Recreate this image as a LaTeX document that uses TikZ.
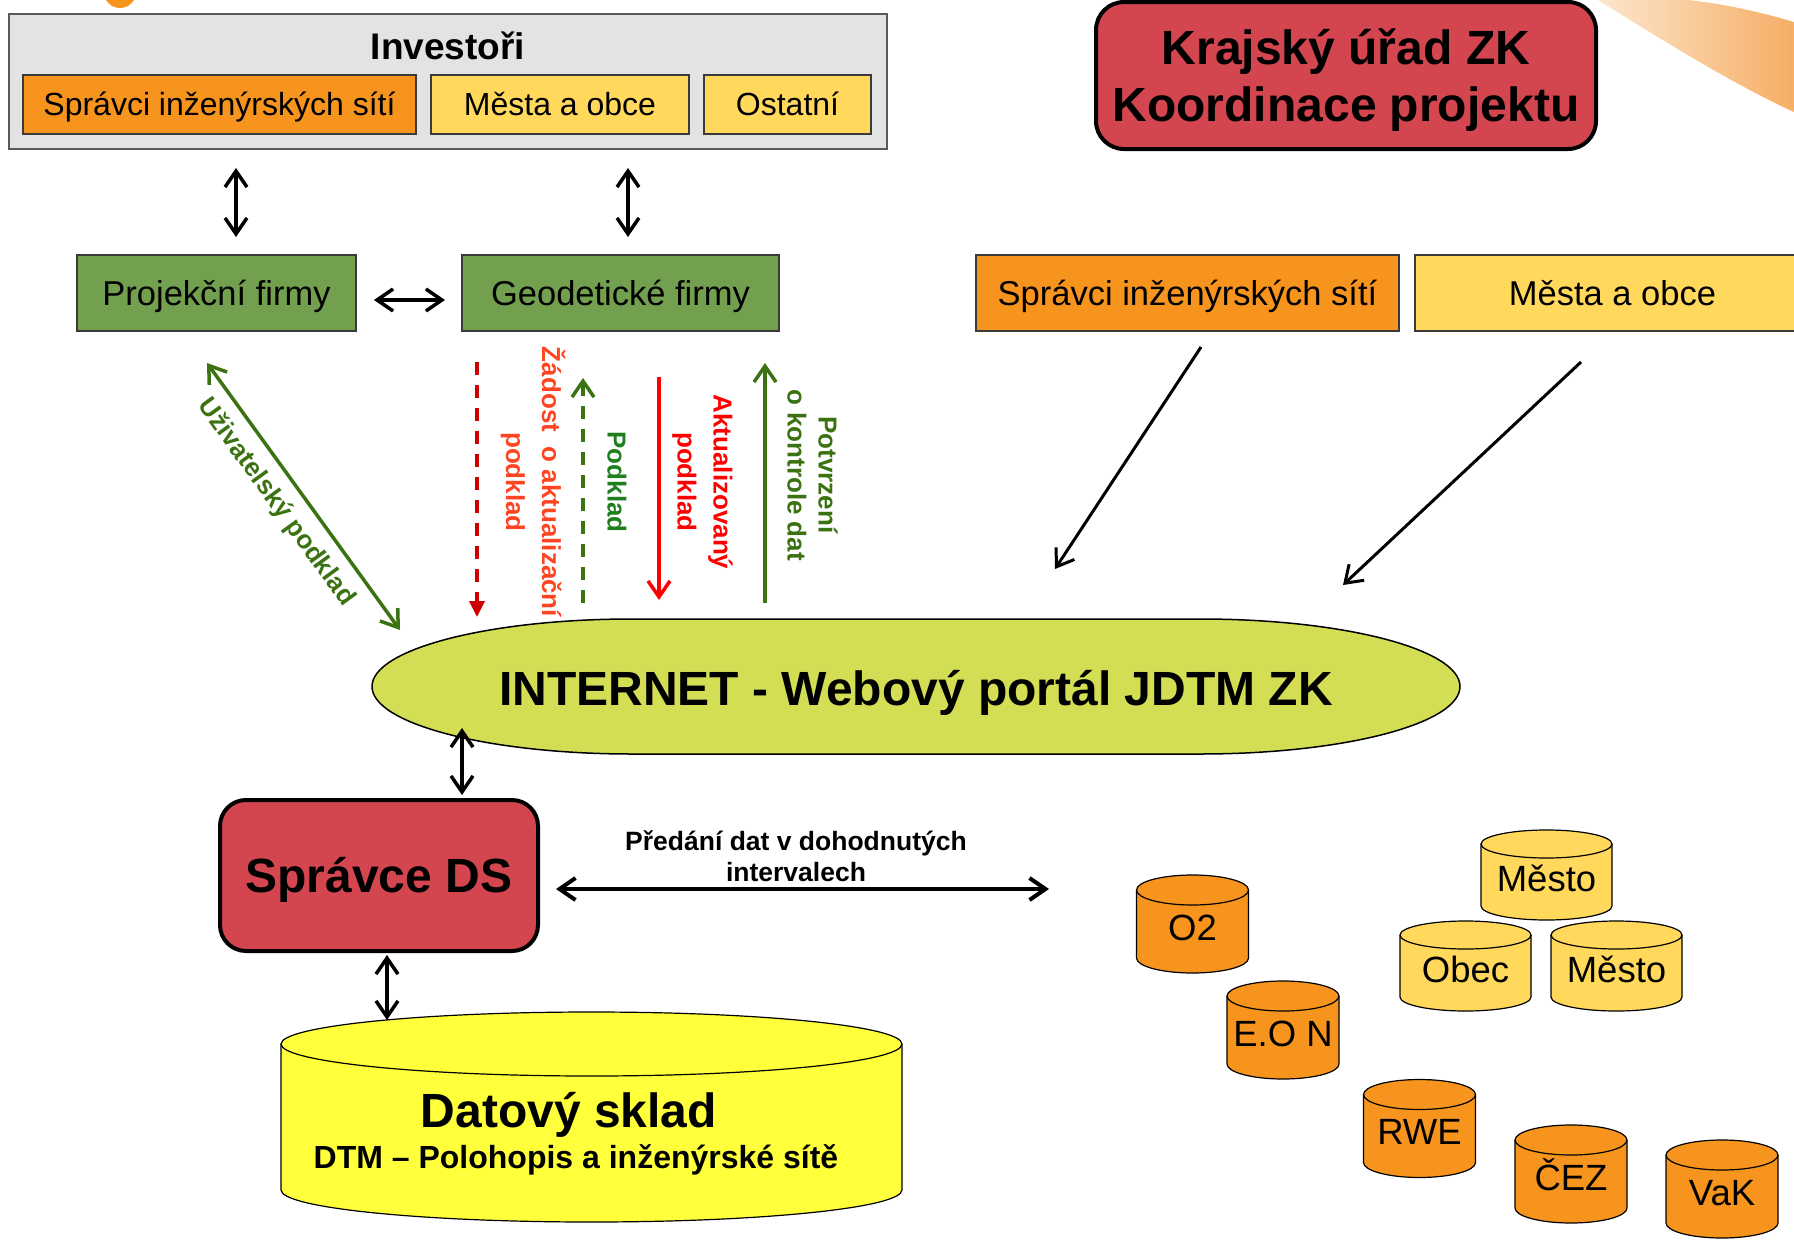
\documentclass[tikz,border=0pt]{standalone}
\usepackage{fontspec}
\setmainfont{Liberation Sans}
\usetikzlibrary{arrows.meta}
\definecolor{cOrange}{HTML}{F7941E}
\definecolor{cYellow}{HTML}{FFD85C}
\definecolor{cGray}{HTML}{E3E3E3}
\definecolor{cGrayBorder}{HTML}{5A5A5A}
\definecolor{cGreenBox}{HTML}{72A04F}
\definecolor{cRedBox}{HTML}{D4464F}
\definecolor{cLime}{HTML}{D3DE55}
\definecolor{cBigYellow}{HTML}{FFFF3C}
\definecolor{cOlive}{HTML}{3B7212}
\definecolor{cPodklad}{HTML}{1F7F1F}
\definecolor{cDarkRed}{HTML}{CC0000}
\definecolor{cOrangeRed}{HTML}{FF4422}
\definecolor{cRed}{HTML}{FF0000}
\definecolor{cBorder}{HTML}{3A3A3A}
\definecolor{cSwooshA}{HTML}{FCE6CC}
\definecolor{cSwooshB}{HTML}{F6AE66}
\newcommand{\myfs}[2]{\fontsize{#1}{#2}\selectfont}
\tikzset{
  box/.style={draw=cBorder, line width=1.5pt, inner sep=0pt, align=center, text depth=0pt},
  toptxt/.style={font=\myfs{32}{38}, text height=22.9pt},
  midtxt/.style={font=\myfs{34.5}{40}, text height=24.7pt},
  orbox/.style={box, fill=cOrange},
  yebox/.style={box, fill=cYellow},
  grbox/.style={box, fill=cGreenBox, midtxt, minimum height=76pt},
  redbox/.style={draw=black, line width=4pt, fill=cRedBox, rounded corners=28pt, inner sep=0pt, align=center, font=\bfseries\myfs{48}{57}, text depth=0pt},
  blkarrow/.style={line width=3.5pt, <->},
  colarrow/.style={line width=3.5pt},
  vlabel/.style={rotate=-90, align=center, font=\bfseries\myfs{26}{36}, text height=54.6pt, text depth=0pt},
  vlabelone/.style={rotate=-90, font=\bfseries\myfs{26}{36}, text height=18.6pt, text depth=0pt},
  cyltext/.style={inner sep=0pt, font=\myfs{36.5}{40}, text height=26.1pt, text depth=0pt}
}
% cylinder: #1 name, #2 cx, #3 cy, #4 width, #5 height, #6 end y-radius, #7 fill, #8 text
\newcommand{\drawcyl}[8]{%
  \pgfmathsetmacro\cylL{#2-#4/2}\pgfmathsetmacro\cylR{#2+#4/2}%
  \pgfmathsetmacro\cylT{#3-#5/2}\pgfmathsetmacro\cylB{#3+#5/2}%
  \pgfmathsetmacro\cylTa{\cylT+#6}\pgfmathsetmacro\cylBa{\cylB-#6}%
  \pgfmathsetmacro\cylTb{\cylT+2*#6}%
  \pgfmathsetmacro\cylKx{0.5523*#4/2}\pgfmathsetmacro\cylKy{0.5523*#6}%
  \pgfmathsetmacro\cylXa{#2-\cylKx}\pgfmathsetmacro\cylXb{#2+\cylKx}%
  \pgfmathsetmacro\cylYa{\cylBa+\cylKy}\pgfmathsetmacro\cylYb{\cylTa-\cylKy}\pgfmathsetmacro\cylYc{\cylTa+\cylKy}%
  \draw[fill=#7, line width=1.2pt] (\cylL,\cylTa) -- (\cylL,\cylBa)
    .. controls (\cylL,\cylYa) and (\cylXa,\cylB) .. (#2,\cylB)
    .. controls (\cylXb,\cylB) and (\cylR,\cylYa) .. (\cylR,\cylBa)
    -- (\cylR,\cylTa)
    .. controls (\cylR,\cylYb) and (\cylXb,\cylT) .. (#2,\cylT)
    .. controls (\cylXa,\cylT) and (\cylL,\cylYb) .. (\cylL,\cylTa) -- cycle;
  \draw[line width=1.2pt] (\cylL,\cylTa)
    .. controls (\cylL,\cylYc) and (\cylXa,\cylTb) .. (#2,\cylTb)
    .. controls (\cylXb,\cylTb) and (\cylR,\cylYc) .. (\cylR,\cylTa);
  \node[cyltext] (#1) at (#2,#3+3) {#8};%
}
\begin{document}
\begin{tikzpicture}[x=1pt, y=-1pt, >={Straight Barb[length=16pt,width=22pt]}]
\useasboundingbox (0,0) rectangle (1794,1253);
\clip (0,0) rectangle (1794,1253);
\fill[white] (0,0) rectangle (1794,1253);

% background decorations
\shade[left color=cSwooshA, right color=cSwooshB] (1598,0) .. controls (1670,45) and (1735,85) .. (1794,112) -- (1794,22) .. controls (1760,12) and (1725,4) .. (1688,0) -- cycle;
\fill[cOrange] (120,-8) circle[radius=16];

% Investori
\node[box, draw=cGrayBorder, fill=cGray, minimum width=878pt, minimum height=135pt] (inv) at (448,81.5) {};
\node[font=\bfseries\myfs{37}{44}, text height=26.5pt, text depth=0pt] (invt) at (448,46) {Investoři};
\node[orbox, toptxt, minimum width=393pt, minimum height=59pt] (spr1) at (219.5,104.5) {Správci inženýrských sítí};
\node[yebox, toptxt, minimum width=258pt, minimum height=59pt] (mes1) at (560,104.5) {Města a obce};
\node[yebox, toptxt, minimum width=167pt, minimum height=59pt] (ost) at (787.5,104.5) {Ostatní};

% Krajsky urad
\node[redbox, text height=91.4pt, minimum width=500pt, minimum height=147pt] (kraj) at (1346,75.5) {Krajský úřad ZK\\Koordinace projektu};

% firms
\node[grbox, minimum width=279pt] (proj) at (216.5,293) {Projekční firmy};
\node[grbox, minimum width=317pt] (geo) at (620.5,293) {Geodetické firmy};
\node[orbox, midtxt, minimum width=423pt, minimum height=76pt] (spr2) at (1187.5,293) {Správci inženýrských sítí};
\node[yebox, midtxt, minimum width=395pt, minimum height=76pt] (mes2) at (1612.5,293) {Města a obce};

% arrows between upper boxes
\coordinate (a1s) at (236,168); \coordinate (a1e) at (236,237);
\coordinate (a2s) at (628,168); \coordinate (a2e) at (628,237);
\coordinate (a3s) at (374,300); \coordinate (a3e) at (445,300);
\draw[blkarrow] (a1s) -- (a1e);
\draw[blkarrow] (a2s) -- (a2e);
\draw[blkarrow] (a3s) -- (a3e);

% vertical labels
\node[vlabel, text=cOrangeRed] (lzad) at (533.5,482) {Žádost\ \ o aktualizační\\podklad};
\node[vlabelone, text=cPodklad] (lpod) at (617,482) {Podklad};
\node[vlabel, text=cRed] (lakt) at (705,482) {Aktualizovaný\\podklad};
\node[vlabel, text=cOlive, font=\bfseries\myfs{26}{31}, text height=49.6pt] (lpot) at (812.5,475) {Potvrzení\\o kontrole dat};
\node[rotate=-54, text=cOlive, font=\bfseries\myfs{26}{31}, text height=18.6pt, text depth=0pt] (luzi) at (278,501) {Uživatelský podklad};

% INTERNET portal
\draw[fill=cLime, line width=1.5pt] (632,619) -- (1200,619)
  .. controls (1343.5,619) and (1460,649.2) .. (1460,686.5)
  .. controls (1460,723.8) and (1343.5,754) .. (1200,754)
  -- (632,754)
  .. controls (488.5,754) and (372,723.8) .. (372,686.5)
  .. controls (372,649.2) and (488.5,619) .. (632,619) -- cycle;
\node[font=\bfseries\myfs{48}{56}, text height=34.4pt, text depth=0pt] (web) at (916,688) {INTERNET - Webový portál JDTM ZK};

% coloured arrows
\coordinate (r1s) at (477,362); \coordinate (r1e) at (477,617);
\coordinate (g1s) at (583,603); \coordinate (g1e) at (583,378);
\coordinate (r2s) at (659,377); \coordinate (r2e) at (659,600);
\coordinate (g2s) at (765,603); \coordinate (g2e) at (765,363);
\coordinate (d1s) at (207,363); \coordinate (d1e) at (400,630);
\draw[colarrow, cDarkRed, dash pattern=on 13pt off 10pt, -{Triangle[length=16pt,width=15pt]}] (r1s) -- (r1e);
\draw[colarrow, cOlive, dash pattern=on 13pt off 10pt, ->] (g1s) -- (g1e);
\draw[colarrow, cRed, ->] (r2s) -- (r2e);
\draw[colarrow, cOlive, ->] (g2s) -- (g2e);
\draw[colarrow, cOlive, <->] (d1s) -- (d1e);

% arrows from right boxes
\coordinate (b1s) at (1201,347); \coordinate (b1e) at (1055,569);
\coordinate (b2s) at (1581,362); \coordinate (b2e) at (1343,585);
\draw[line width=3pt, ->] (b1s) -- (b1e);
\draw[line width=3pt, ->] (b2s) -- (b2e);

% Spravce DS
\node[redbox, rounded corners=26pt, minimum width=318pt, minimum height=151pt, text height=34.4pt] (sds) at (379,875.5) {Správce DS};
\coordinate (c1s) at (462,728); \coordinate (c1e) at (462,795);
\draw[blkarrow] (c1s) -- (c1e);

% Datovy sklad
\drawcyl{sklad}{591.5}{1117}{621}{210}{32}{cBigYellow}{}
\node[font=\bfseries\myfs{48}{56}, text height=34.4pt, text depth=0pt] (skladt) at (569,1110) {Datový sklad};
\node[font=\bfseries\myfs{32}{38}, text height=22.9pt, text depth=0pt] (skladd) at (576,1157) {DTM – Polohopis a inženýrské sítě};
\coordinate (c2s) at (387,955); \coordinate (c2e) at (387,1020);
\draw[blkarrow] (c2s) -- (c2e);

% Predani
\coordinate (p1s) at (556,889); \coordinate (p1e) at (1049,889);
\draw[line width=4pt, <->] (p1s) -- (p1e);
\node[align=center, font=\bfseries\myfs{26.5}{31}, text height=50pt, text depth=0pt] (pred) at (796,856.5) {Předání dat v dohodnutých\\intervalech};

% cylinders
\drawcyl{o2}{1192.5}{924}{112}{98}{15}{cOrange}{O2}
\drawcyl{eon}{1283}{1030}{112}{98}{15}{cOrange}{E.O N}
\drawcyl{rwe}{1419.5}{1128.5}{112}{98}{15}{cOrange}{RWE}
\drawcyl{cez}{1571}{1174}{112}{98}{15}{cOrange}{ČEZ}
\drawcyl{vak}{1722}{1189}{112}{98}{15}{cOrange}{VaK}
\drawcyl{mesto1}{1546.5}{875}{131}{90}{14}{cYellow}{Město}
\drawcyl{obec}{1465.5}{966}{131}{90}{14}{cYellow}{Obec}
\drawcyl{mesto2}{1616.5}{966}{131}{90}{14}{cYellow}{Město}
\end{tikzpicture}
\end{document}
